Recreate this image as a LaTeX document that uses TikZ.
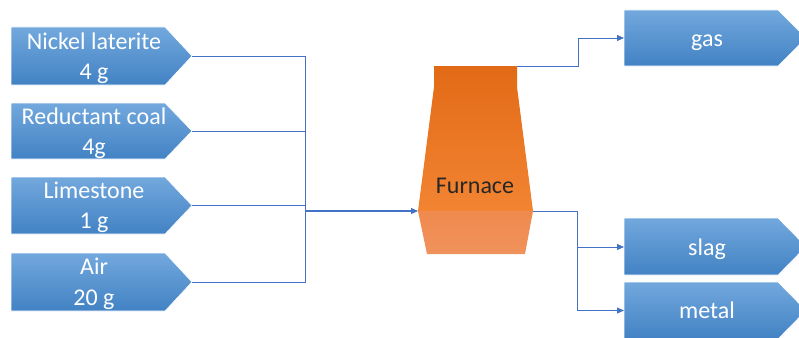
\documentclass[tikz,border=0pt]{standalone}
\usepackage{fontspec}
\setmainfont{Carlito}
\usetikzlibrary{arrows.meta}
\definecolor{btop}{RGB}{114,168,221}
\definecolor{bbot}{RGB}{66,130,196}
\definecolor{linec}{RGB}{68,114,196}
\definecolor{ftop}{RGB}{226,106,22}
\definecolor{fmid}{RGB}{242,132,50}
\definecolor{flow}{RGB}{240,138,78}
\definecolor{fbot}{RGB}{240,146,92}
\tikzset{
  box/.style={top color=btop,bottom color=bbot,draw=white,line width=0.6pt},
  boxtext/.style={text=white,align=center,font=\fontsize{24}{30.5}\selectfont},
  link/.style={draw=linec,line width=0.8pt},
  arr/.style={link,-{Triangle[length=7pt,width=6pt]}},
}
\newcommand\chevbox[5]{% x1, ytop, xc, tip, ybot
  \shade[box] (#1,#2) -- (#3,#2) -- (#4,{(#2+#5)/2}) -- (#3,#5) -- (#1,#5) -- cycle;}
\begin{document}
\begin{tikzpicture}[x=1pt,y=-1pt]
\useasboundingbox (0,0) rectangle (799,337);
% input boxes
\chevbox{11}{27}{165}{192}{85}
\chevbox{11}{103}{165}{192}{159}
\chevbox{11}{177}{165}{192}{234}
\chevbox{11}{253}{165}{192}{311}
\node[boxtext] (nickel) at (94,58) {Nickel laterite\\4 g};
\node[boxtext] (coal) at (94,133) {Reductant coal\\4g};
\node[boxtext] (lime) at (94,207.5) {Limestone\\1 g};
\node[boxtext] (air) at (94,284) {Air\\20 g};
\coordinate (in1) at (192,56);
\coordinate (in2) at (192,131);
\coordinate (in3) at (192,205.5);
\coordinate (in4) at (192,282);
% output boxes
\chevbox{624}{10}{778}{806}{66}
\chevbox{624}{218}{778}{806}{275}
\chevbox{624}{282}{778}{806}{339}
\node[boxtext,anchor=base] (gas) at (707,47) {gas};
\node[boxtext,anchor=base] (slag) at (707,255) {slag};
\node[boxtext,anchor=base] (metal) at (707,318) {metal};
\coordinate (gasin) at (624,38);
\coordinate (slagin) at (624,247);
\coordinate (metalin) at (624,310.5);
% furnace
\shade[top color=ftop,bottom color=fmid] (434,66) -- (517,66) -- (517,87) -- (533,211) -- (418,211) -- (434,87) -- cycle;
\shade[top color=flow,bottom color=fbot] (418,211) -- (533,211) -- (525,254) -- (427,254) -- cycle;
\node[font=\fontsize{24}{30}\selectfont,text=black!85,anchor=base] (furnace) at (475,193) {Furnace};
\coordinate (fin) at (418,211);
\coordinate (fgas) at (517,66);
\coordinate (fout) at (533,211);
% connectors
\coordinate (bus) at (305,211);
\coordinate (bustop) at (305,56);
\coordinate (gasturn) at (578,66);
\coordinate (outturn) at (577,211);
\draw[link] (in1) -- (bustop) -- (305,282) -- (in4);
\draw[link] (in2) -- (305,131);
\draw[link] (in3) -- (305,205.5);
\draw[arr,line width=1.1pt] (bus) -- (fin);
\draw[arr] (fgas) -- (gasturn) |- (gasin);
\draw[arr] (fout) -- (outturn) |- (slagin);
\draw[arr] (outturn) |- (metalin);
\end{tikzpicture}
\end{document}
